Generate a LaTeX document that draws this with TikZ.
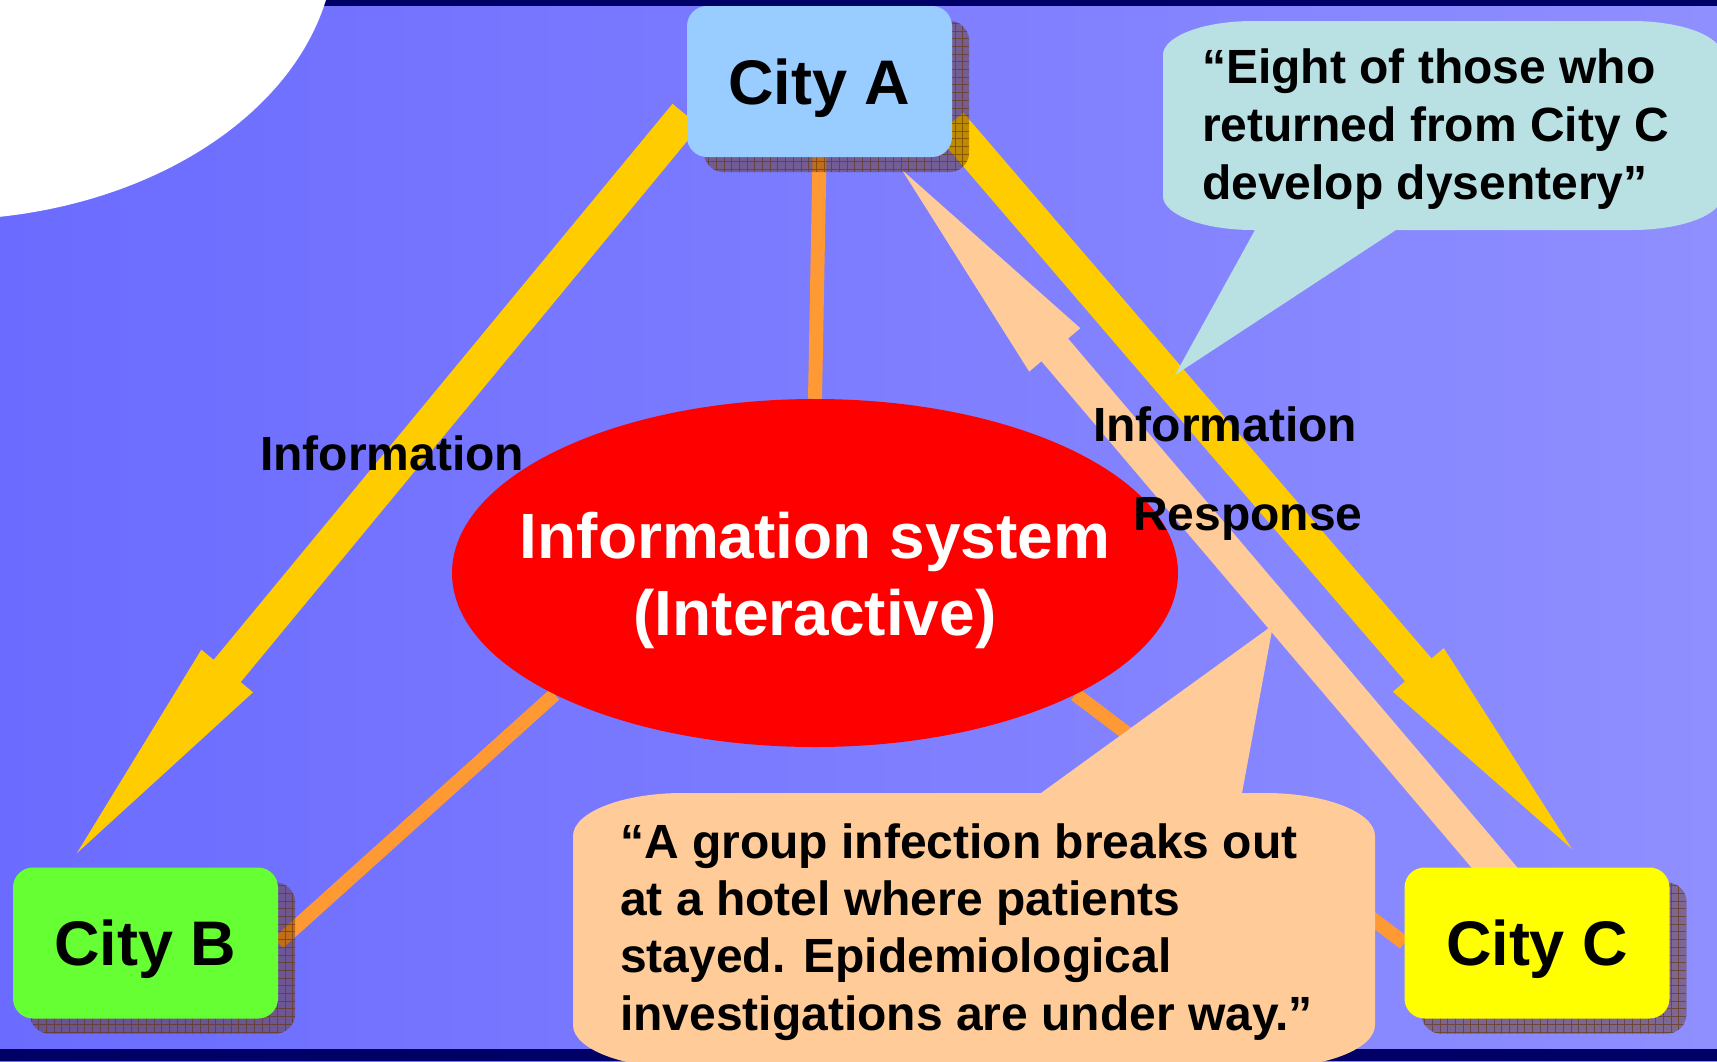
\documentclass[tikz,border=0pt]{standalone}
\usepackage{fontspec}
\setmainfont{Liberation Sans}
\usetikzlibrary{shapes.geometric,calc}
\definecolor{bgL}{HTML}{6B6BFF}
\definecolor{bgR}{HTML}{8F8FFF}
\definecolor{navy}{HTML}{000066}
\definecolor{cityAc}{HTML}{99CCFF}
\definecolor{cityBc}{HTML}{66FF33}
\definecolor{cityCc}{HTML}{FFFF00}
\definecolor{gold}{HTML}{FFCC00}
\definecolor{peach}{HTML}{FFCC99}
\definecolor{orangeL}{HTML}{FF9933}
\definecolor{cyanc}{HTML}{B9E0E3}
\definecolor{shadowc}{HTML}{663300}
\pgfdeclarelayer{back}
\pgfdeclarelayer{links}
\pgfdeclarelayer{shade}
\pgfdeclarelayer{callout}
\pgfdeclarelayer{labels}
\pgfsetlayers{back,links,shade,main,callout,labels}
\tikzset{
  citybox/.style={rectangle, rounded corners=20pt, minimum width=265pt, minimum height=151pt,
    inner sep=0pt, text height=45pt, text depth=0pt, font=\fontsize{63}{70}\selectfont\bfseries},
  conn/.style={orangeL, line width=14pt},
  lbl/.style={inner sep=0pt, font=\fontsize{48}{58}\selectfont\bfseries, text=black},
  ellfont/.style={inner sep=0pt, text=white, font=\fontsize{64}{77}\selectfont\bfseries},
  shadowfill/.style={fill=shadowc, fill opacity=0.42, rounded corners=20pt},
}
% block arrow: #1 colour, #2 start, #3 tip
\newcommand\blockarrow[3]{%
  \coordinate (ba-h) at ($(#3)!236pt!(#2)$);
  \fill[#1] ($(#2)!17.5pt!90:(#3)$) -- ($(ba-h)!17.5pt!90:(#3)$) -- ($(ba-h)!33.5pt!90:(#3)$)
    -- (#3) -- ($(ba-h)!33.5pt!-90:(#3)$) -- ($(ba-h)!17.5pt!-90:(#3)$) -- ($(#2)!17.5pt!-90:(#3)$) -- cycle;
}
\newcommand\citysh[1]{%
  \fill[shadowfill] ($(#1.south west)+(17,15)$) rectangle ($(#1.north east)+(17,15)$);
  \begin{scope}
    \clip[rounded corners=20pt] ($(#1.south west)+(17,15)$) rectangle ($(#1.north east)+(17,15)$);
    \draw[shadowc, line width=0.6pt, opacity=0.6, step=7.7pt] ($(#1.south west)+(17,15)$) grid ($(#1.north east)+(17,15)$);
  \end{scope}
}
\begin{document}
\begin{tikzpicture}[x=1pt, y=-1pt]
\useasboundingbox (0,0) rectangle (1717,1061);

% nodes
\node[citybox, fill=cityAc] (cityA) at (819.5,81.5) {City A};
\node[citybox, fill=cityBc] (cityB) at (145.5,943) {City B};
\node[citybox, fill=cityCc] (cityC) at (1537,943) {City C};
\node[ellipse, fill=red, minimum width=726pt, minimum height=348pt, inner sep=0pt] (ell) at (815,573) {};
\node[ellfont, anchor=base] (ellt) at ($(ell.center)+(0,-15)$)
  {\begin{tabular}[t]{@{}c@{}}Information system\\(Interactive)\end{tabular}};

\begin{pgfonlayer}{back}
  \shade[left color=bgL, right color=bgR] (0,0) rectangle (1717,1061);
  \fill[navy] (0,0) rectangle (1717,6);
  \fill[navy] (0,1049) rectangle (1717,1061);
  \fill[white] (-60,-60) ellipse [x radius=395, y radius=280];
\end{pgfonlayer}

\begin{pgfonlayer}{links}
  \draw[conn] (cityA.south) -- (ell.north);
  \draw[conn] (ell.205) -- (cityB.east);
  \draw[conn] (ell.335) -- (cityC.west);
  \coordinate (aLs) at (686,115);
  \coordinate (aLt) at (77,853);
  \coordinate (aRs) at (950,124);
  \coordinate (aRt) at (1572,849);
  \coordinate (aPs) at (1505,880);
  \coordinate (aPt) at (902,170);
  \blockarrow{gold}{aLs}{aLt}
  \blockarrow{gold}{aRs}{aRt}
  \blockarrow{peach}{aPs}{aPt}
\end{pgfonlayer}

\begin{pgfonlayer}{shade}
  \citysh{cityA}
  \citysh{cityB}
  \citysh{cityC}
\end{pgfonlayer}

\begin{pgfonlayer}{callout}
  \coordinate (tipCy) at (1175,375);
  \coordinate (tipPe) at (1273,625);
  \fill[cyanc] (1163,55) -- (1163,196)
    arc[start angle=180, end angle=90, x radius=90, y radius=34]
    -- (1255,230) -- (tipCy) -- (1396,230) -- (1632,230)
    arc[start angle=90, end angle=0, x radius=90, y radius=34]
    -- (1722,55)
    arc[start angle=0, end angle=-90, x radius=90, y radius=34]
    -- (1253,21)
    arc[start angle=-90, end angle=-180, x radius=90, y radius=34]
    -- cycle;
  \fill[peach] (573,836)
    arc[start angle=180, end angle=270, x radius=110, y radius=43]
    -- (1041,793) -- (tipPe) -- (1242,793) -- (1265,793)
    arc[start angle=270, end angle=360, x radius=110, y radius=43]
    -- (1375,1025)
    arc[start angle=0, end angle=90, x radius=110, y radius=43]
    -- (683,1068)
    arc[start angle=90, end angle=180, x radius=110, y radius=43]
    -- cycle;
\end{pgfonlayer}

\begin{pgfonlayer}{labels}
  \node[lbl, anchor=base west] (infoL) at (260,470) {Information};
  \node[lbl, anchor=base west] (infoR) at (1093,441) {Information};
  \node[lbl, anchor=base west] (resp) at (1133,530) {Response};
  \node[lbl, anchor=base west] (quoteC) at (1202,83)
    {\vtop{\hbox{“Eight of those who}\hbox{returned from City C}\hbox{develop dysentery”}}};
  \node[lbl, font=\fontsize{48}{57.4}\selectfont\bfseries, anchor=base west] (quoteP) at (620,858)
    {\vtop{\hbox{“A group infection breaks out}\hbox{at a hotel where patients}\hbox{stayed. Epidemiological}\hbox{investigations are under way.”}}};
\end{pgfonlayer}
\end{tikzpicture}
\end{document}
